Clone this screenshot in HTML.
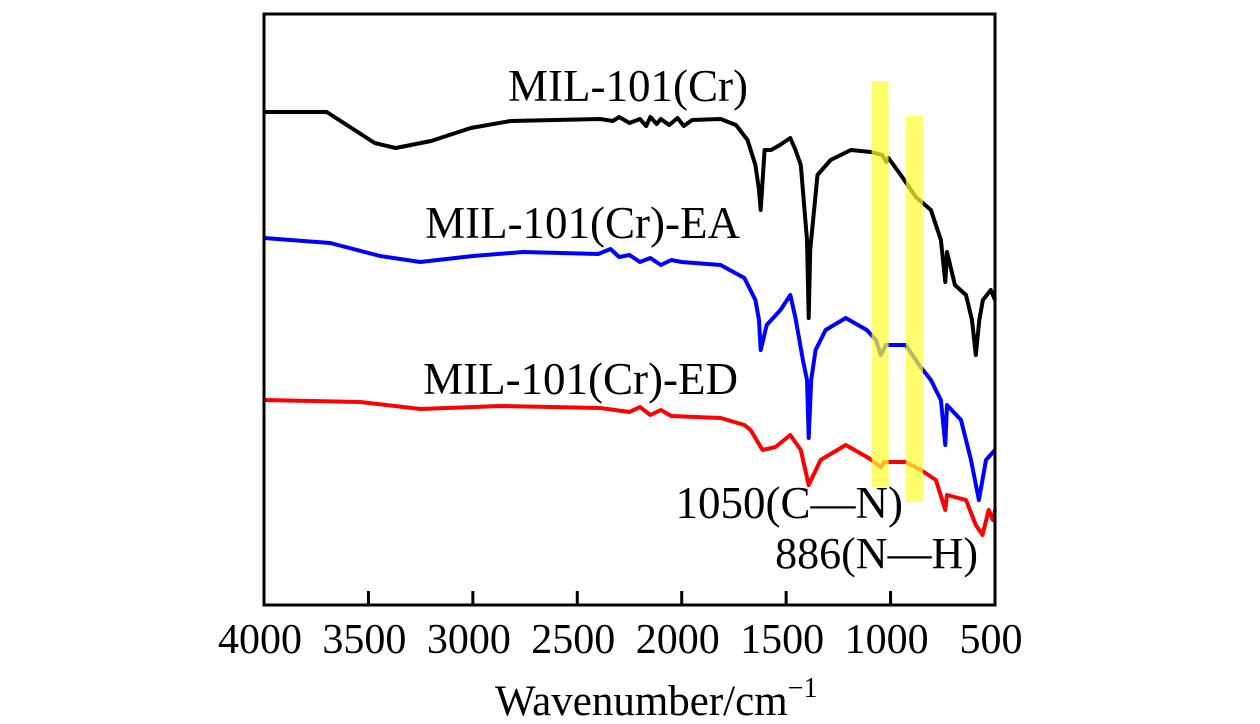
<!DOCTYPE html>
<html><head><meta charset="utf-8">
<style>
html,body{margin:0;padding:0;background:#fff;}
svg{display:block;font-family:"Liberation Serif","Times New Roman",serif;}
</style></head>
<body>
<svg id="chart" width="1260" height="724" viewBox="0 0 1260 724" xmlns="http://www.w3.org/2000/svg">
  <g id="series"></g>
  <g id="bands"></g>
  <rect x="264" y="14" width="731" height="591" fill="none" stroke="#000" stroke-width="3"/>
  <g id="ticks"></g>
  <text x="748" y="101" font-size="45" text-anchor="end">MIL-101(Cr)</text>
  <text x="740" y="238" font-size="45" text-anchor="end">MIL-101(Cr)-EA</text>
  <text x="738" y="394" font-size="45" text-anchor="end">MIL-101(Cr)-ED</text>
  <text x="903" y="518" font-size="45" text-anchor="end">1050(C—N)</text>
  <text x="978" y="568" font-size="44" text-anchor="end">886(N—H)</text>
  <text x="495" y="715" font-size="43">Wavenumber/cm<tspan font-size="28" dy="-18">−1</tspan></text>
</svg>
<script>
const xTicks = [4000, 3500, 3000, 2500, 2000, 1500, 1000, 500];
const bandCenters = [1050, 886];
const bandTops = [430, 395];
const bandBottoms = [50, 35];

const blackW = [4000,3700,3470,3370,3200,3010,2820,2390,2330,2300,2250,2200,2170,2150,2120,2100,2060,2020,1990,1950,1814,1740,1685,1647,1630,1622,1603,1572,1530,1480,1455,1430,1400,1392,1385,1350,1287,1190,1095,1040,1020,1010,951,879,807,759,738,730,692,639,610,592,575,558,520,500];
const blackV = [493,493,462,457,464,477,484,486,484,488,482,486,479,488,481,486,480,487,479,485,486,480,465,440,415,395,455,455,460,467,455,440,365,287,355,430,445,455,453,450,443,447,430,408,395,365,323,353,320,310,285,250,285,305,315,305];

const blueW = [4000,3683,3444,3252,3000,2760,2400,2341,2300,2250,2200,2150,2100,2050,2000,1814,1700,1647,1630,1622,1593,1527,1480,1455,1420,1400,1392,1380,1359,1311,1215,1114,1070,1047,1023,927,864,807,759,738,730,663,615,577,543,500];
const blueV = [367,362,349,343,349,353,351,356,348,350,343,347,340,345,343,340,327,305,285,255,280,295,310,287,245,225,167,225,255,275,287,275,265,250,260,260,240,225,205,160,200,185,145,105,145,155];

const redW = [4000,3540,3250,2870,2390,2250,2200,2150,2100,2050,1814,1700,1670,1613,1551,1480,1430,1392,1335,1215,1105,1047,1030,927,855,783,738,730,639,592,560,530,510,500];
const redV = [205,203,196,199,197,193,198,190,195,189,187,180,175,155,158,170,155,120,145,160,147,138,143,143,135,125,95,110,105,80,70,95,85,95];

const X0 = 264, X1 = 995, Y0 = 605, Y1 = 14;
function xScale(w){ return X0 + (4000 - w) / 3500 * (X1 - X0); }
function yScale(v){ return Y0 - v / 591 * (Y0 - Y1); }
const NS = "http://www.w3.org/2000/svg";

const seriesG = document.getElementById('series');
function drawSeries(ws, vs, color, name){
  let d = '';
  ws.forEach((w, i) => { d += (i ? 'L' : 'M') + xScale(w).toFixed(1) + ',' + yScale(vs[i]).toFixed(1); });
  const p = document.createElementNS(NS, 'path');
  p.setAttribute('d', d);
  p.setAttribute('fill', 'none');
  p.setAttribute('stroke', color);
  p.setAttribute('stroke-width', '4');
  p.setAttribute('stroke-linejoin', 'round');
  
  
  seriesG.appendChild(p);
}
drawSeries(blackW, blackV, '#000', 'series-mil-101');
drawSeries(blueW, blueV, '#0000ff', 'series-mil-101-ea');
drawSeries(redW, redV, '#ff0000', 'series-mil-101-ed');

const bands = document.getElementById('bands');
bandCenters.forEach((c, i) => {
  const r = document.createElementNS(NS, 'rect');
  r.setAttribute('x', xScale(c) - 8.5);
  r.setAttribute('y', yScale(bandTops[i] + 94));
  r.setAttribute('width', 17);
  r.setAttribute('height', yScale(bandBottoms[i] + 68) - yScale(bandTops[i] + 94));
  r.setAttribute('fill', '#ffff33');
  r.setAttribute('fill-opacity', '0.72');
  
  
  bands.appendChild(r);
});

const ticks = document.getElementById('ticks');
xTicks.forEach(t => {
  const x = xScale(t);
  const l = document.createElementNS(NS, 'line');
  l.setAttribute('x1', x); l.setAttribute('x2', x);
  l.setAttribute('y1', Y0); l.setAttribute('y2', Y0 - 14);
  l.setAttribute('stroke', '#000'); l.setAttribute('stroke-width', '3');
  
  
  ticks.appendChild(l);
  const tx = document.createElementNS(NS, 'text');
  tx.setAttribute('x', x - 4); tx.setAttribute('y', 653);
  tx.setAttribute('font-size', '42'); tx.setAttribute('text-anchor', 'middle');
  tx.textContent = t;
  
  
  ticks.appendChild(tx);
});
</script>
</body></html>
